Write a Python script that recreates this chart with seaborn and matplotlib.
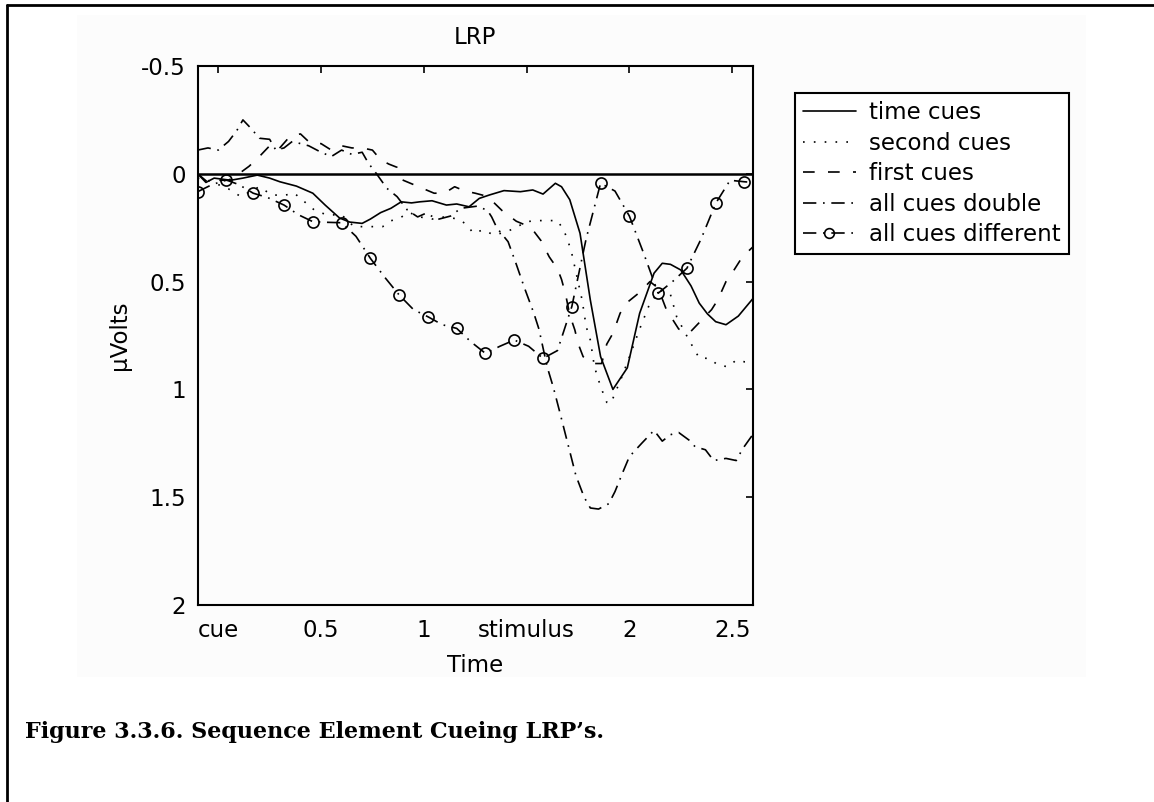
import matplotlib
matplotlib.use("Agg")
import matplotlib.pyplot as plt
import matplotlib.patches as mpatches
from matplotlib.lines import Line2D
import seaborn as sns

# ── Data (time in s, amplitude in microvolts) ────────────────────────────────
time_cues_x = [-0.10, -0.06, -0.02, 0.06, 0.12, 0.19, 0.25, 0.30, 0.38, 0.46,
               0.52, 0.59, 0.64, 0.70, 0.74, 0.79, 0.84, 0.89, 0.94, 0.98,
               1.04, 1.11, 1.16, 1.22, 1.27, 1.32, 1.39, 1.47, 1.53, 1.58,
               1.64, 1.67, 1.71, 1.76, 1.81, 1.86, 1.92, 1.99, 2.05, 2.12,
               2.16, 2.20, 2.25, 2.30, 2.34, 2.38, 2.42, 2.47, 2.53, 2.60]
time_cues_y = [0.00, 0.04, 0.02, 0.03, 0.02, 0.006, 0.02, 0.037, 0.057, 0.09,
               0.145, 0.205, 0.224, 0.23, 0.21, 0.18, 0.16, 0.13, 0.135, 0.13,
               0.125, 0.145, 0.14, 0.153, 0.114, 0.098, 0.078, 0.083, 0.075, 0.094,
               0.044, 0.06, 0.12, 0.276, 0.585, 0.848, 1.00, 0.90, 0.647, 0.461,
               0.415, 0.42, 0.446, 0.52, 0.60, 0.65, 0.686, 0.70, 0.66, 0.58]

second_cues_x = [-0.10, -0.05, 0.00, 0.05, 0.11, 0.16, 0.20, 0.26, 0.32, 0.37,
                 0.42, 0.47, 0.53, 0.60, 0.66, 0.72, 0.80, 0.84, 0.88, 0.93,
                 0.98, 1.04, 1.10, 1.17, 1.21, 1.24, 1.29, 1.34, 1.40, 1.45,
                 1.50, 1.55, 1.60, 1.65, 1.68, 1.70, 1.72, 1.745, 1.77, 1.79,
                 1.81, 1.83, 1.86, 1.89, 1.91, 1.93, 1.96, 2.00, 2.05, 2.10,
                 2.15, 2.20, 2.23, 2.29, 2.34, 2.39, 2.43, 2.48, 2.52, 2.56,
                 2.60]
second_cues_y = [0.02, 0.03, 0.05, 0.07, 0.106, 0.08, 0.06, 0.098, 0.10, 0.09,
                 0.13, 0.17, 0.191, 0.19, 0.245, 0.245, 0.245, 0.218, 0.206, 0.18,
                 0.20, 0.21, 0.20, 0.21, 0.237, 0.275, 0.26, 0.284, 0.27, 0.248,
                 0.222, 0.217, 0.217, 0.217, 0.26, 0.307, 0.37, 0.477, 0.585, 0.709,
                 0.771, 0.895, 0.987, 1.06, 1.065, 1.018, 0.95, 0.85, 0.72, 0.60,
                 0.54, 0.56, 0.663, 0.771, 0.855, 0.856, 0.887, 0.895, 0.864, 0.872,
                 0.87]

first_cues_x = [-0.10, -0.05, 0.00, 0.05, 0.10, 0.15, 0.20, 0.25, 0.29, 0.35,
                0.40, 0.45, 0.50, 0.55, 0.60, 0.65, 0.70, 0.75, 0.79, 0.83,
                0.87, 0.90, 0.95, 1.00, 1.05, 1.10, 1.15, 1.20, 1.25, 1.31,
                1.38, 1.45, 1.50, 1.53, 1.57, 1.61, 1.65, 1.67, 1.69, 1.71,
                1.735, 1.75, 1.775, 1.82, 1.865, 1.89, 1.92, 1.955, 1.985, 2.05,
                2.10, 2.14, 2.18, 2.24, 2.29, 2.34, 2.40, 2.43, 2.47, 2.50,
                2.55, 2.60]
first_cues_y = [0.00, 0.04, 0.03, 0.03, 0.00, -0.035, -0.08, -0.13, -0.11, -0.175,
                -0.185, -0.14, -0.14, -0.11, -0.13, -0.12, -0.12, -0.11, -0.065, -0.045,
                -0.03, 0.03, 0.05, 0.07, 0.09, 0.09, 0.06, 0.08, 0.09, 0.105,
                0.17, 0.22, 0.24, 0.26, 0.31, 0.385, 0.44, 0.49, 0.56, 0.655,
                0.725, 0.786, 0.848, 0.88, 0.88, 0.79, 0.74, 0.647, 0.60, 0.55,
                0.50, 0.53, 0.63, 0.72, 0.74, 0.69, 0.63, 0.585, 0.50, 0.46,
                0.385, 0.34]

double_x = [-0.10, -0.05, 0.00, 0.05, 0.09, 0.12, 0.16, 0.20, 0.25, 0.28,
            0.32, 0.36, 0.40, 0.44, 0.50, 0.55, 0.60, 0.65, 0.70, 0.73,
            0.77, 0.82, 0.87, 0.92, 0.97, 1.01, 1.07, 1.13, 1.18, 1.26,
            1.31, 1.33, 1.355, 1.41, 1.45, 1.49, 1.535, 1.56, 1.60, 1.63,
            1.66, 1.70, 1.74, 1.78, 1.81, 1.85, 1.90, 1.93, 1.97, 2.00,
            2.06, 2.12, 2.16, 2.20, 2.24, 2.29, 2.32, 2.37, 2.41, 2.47,
            2.52, 2.55, 2.60]
double_y = [-0.11, -0.12, -0.11, -0.15, -0.20, -0.25, -0.21, -0.165, -0.16, -0.11,
            -0.12, -0.15, -0.14, -0.13, -0.10, -0.08, -0.11, -0.09, -0.10, -0.05,
            0.00, 0.067, 0.106, 0.168, 0.20, 0.183, 0.211, 0.196, 0.16, 0.15,
            0.17, 0.20, 0.25, 0.315, 0.42, 0.53, 0.646, 0.72, 0.895, 0.99,
            1.10, 1.25, 1.40, 1.50, 1.55, 1.555, 1.53, 1.474, 1.38, 1.312,
            1.25, 1.19, 1.24, 1.21, 1.20, 1.235, 1.266, 1.28, 1.33, 1.32,
            1.33, 1.277, 1.21]

# circles sit on every other point of this series
different_x = [-0.10, -0.03, 0.04, 0.10, 0.17, 0.24, 0.32, 0.39, 0.46, 0.53,
               0.60, 0.67, 0.74, 0.81, 0.88, 0.95, 1.02, 1.09, 1.16, 1.23,
               1.30, 1.37, 1.44, 1.51, 1.58, 1.65, 1.72, 1.79, 1.86, 1.93,
               2.00, 2.07, 2.14, 2.21, 2.28, 2.35, 2.42, 2.49, 2.56, 2.60]
different_y = [0.083, 0.05, 0.029, 0.05, 0.09, 0.11, 0.145, 0.19, 0.222, 0.225,
               0.227, 0.29, 0.392, 0.48, 0.562, 0.63, 0.663, 0.70, 0.717, 0.78,
               0.833, 0.80, 0.771, 0.80, 0.856, 0.82, 0.616, 0.30, 0.044, 0.08,
               0.196, 0.37, 0.554, 0.50, 0.438, 0.30, 0.137, 0.03, 0.037, 0.04]

series_labels = ["time cues", "second cues", "first cues",
                 "all cues double", "all cues different"]

x_ticks = [0, 0.5, 1, 1.5, 2, 2.5]
x_tick_labels = ["cue", "0.5", "1", "stimulus", "2", "2.5"]
y_ticks = [-0.5, 0, 0.5, 1, 1.5, 2]
y_tick_labels = ["-0.5", "0", "0.5", "1", "1.5", "2"]

# ── Style ────────────────────────────────────────────────────────────────────
sns.set_theme(style="white")
plt.rcParams["font.family"] = ["DejaVu Sans"]
plt.rcParams["text.color"] = "black"
FS = 16.5
W, H = 1154, 802

DOTTED = (0, (1, 5.5))
DASHED = (0, (7, 8))
DASHDOT = (0, (8, 4, 1, 4))

fig = plt.figure(figsize=(W / 100, H / 100), dpi=100)
fig.patch.set_facecolor("white")

# faint grey backdrop of the scanned plot and the page frame
fig.add_artist(mpatches.Rectangle((77 / W, 1 - 677 / H), (1086 - 77) / W, (677 - 15) / H,
                                  transform=fig.transFigure, facecolor="#fcfcfc",
                                  edgecolor="none", zorder=0))
fig.add_artist(Line2D([7 / W, 7 / W], [0, 1 - 5 / H], transform=fig.transFigure,
                      color="black", lw=2))
fig.add_artist(Line2D([7 / W, 1], [1 - 5 / H, 1 - 5 / H], transform=fig.transFigure,
                      color="black", lw=2))

ax = fig.add_axes([197.7 / W, 1 - 605 / H, 555 / W, 539 / H])
ax.set_facecolor("none")

ax.axhline(0, color="black", lw=1.8, zorder=1)

line_kw = dict(color="black", lw=1.2, ax=ax, errorbar=None, sort=False, legend=False)
sns.lineplot(x=time_cues_x, y=time_cues_y, linestyle="-", **line_kw)
sns.lineplot(x=second_cues_x, y=second_cues_y, linestyle=DOTTED, **line_kw)
sns.lineplot(x=first_cues_x, y=first_cues_y, linestyle=DASHED, **line_kw)
sns.lineplot(x=double_x, y=double_y, linestyle=DASHDOT, **line_kw)
sns.lineplot(x=different_x, y=different_y, linestyle=DASHDOT, marker="o",
             markersize=8, markevery=slice(0, None, 2), markerfacecolor="none",
             markeredgecolor="black", markeredgewidth=1.2, **line_kw)

ax.set_xlim(-0.1, 2.6)
ax.set_ylim(2, -0.5)
ax.set_xticks(x_ticks)
ax.set_xticklabels(x_tick_labels)
ax.set_yticks(y_ticks)
ax.set_yticklabels(y_tick_labels)
ax.tick_params(direction="in", top=True, right=True, length=5, width=1.2,
               labelsize=FS, colors="black")
ax.tick_params(axis="x", pad=10)
ax.tick_params(axis="y", pad=8.5)
for sp in ax.spines.values():
    sp.set_visible(True)
    sp.set_color("black")
    sp.set_linewidth(1.5)

ax.set_title("LRP", fontsize=FS, pad=16, color="black")
ax.set_xlabel("Time", fontsize=FS, color="black")
ax.xaxis.set_label_coords(0.5, -0.09)
ax.set_ylabel("μVolts", fontsize=FS, color="black")
ax.yaxis.set_label_coords(-0.12, 0.5)

# legend keys drawn like the original ones
handles = [
    Line2D([], [], color="black", lw=1.2, linestyle="-"),
    Line2D([], [], color="black", lw=1.2, linestyle=DOTTED),
    Line2D([], [], color="black", lw=1.2, linestyle=DASHED),
    Line2D([], [], color="black", lw=1.2, linestyle=DASHDOT),
    Line2D([], [], color="black", lw=1.2, linestyle=DASHDOT, marker="o",
           markersize=7, markerfacecolor="none", markeredgewidth=1.2),
]
leg = ax.legend(handles, series_labels, loc="upper left",
                bbox_to_anchor=(795 / W, 1 - 93 / H),
                bbox_transform=fig.transFigure, borderaxespad=0, borderpad=0.35,
                handlelength=2.3, handletextpad=0.6, labelspacing=0.33,
                fontsize=FS, frameon=True, fancybox=False, framealpha=1)
leg.get_frame().set_edgecolor("black")
leg.get_frame().set_linewidth(1.5)

fig.text(25 / W, 1 - 732 / H, "Figure 3.3.6. Sequence Element Cueing LRP\u2019s.",
         family="DejaVu Serif", weight="bold", size=16, va="center", ha="left",
         color="black")

plt.savefig("out.png", dpi=100)
plt.close()
